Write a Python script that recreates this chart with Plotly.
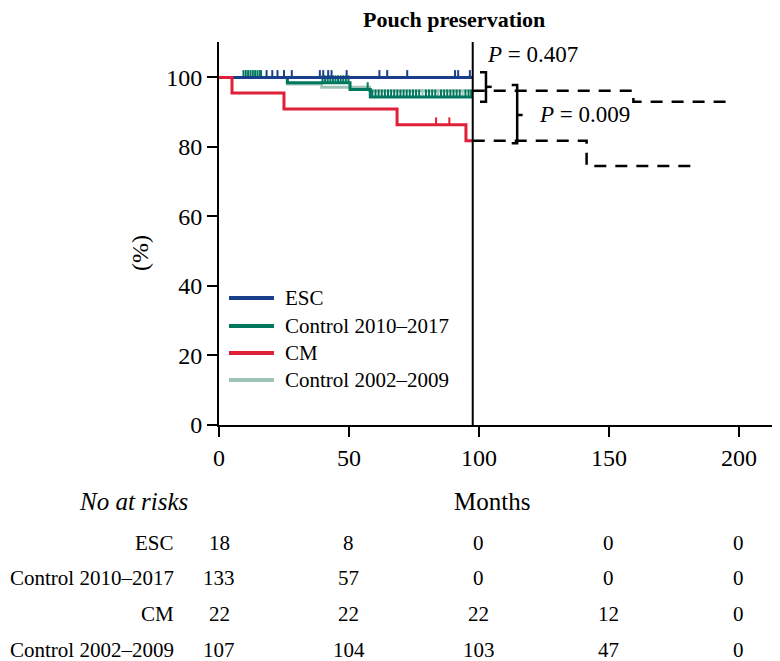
import numpy as np
import plotly.graph_objects as go

# ---------------- data ----------------
series_names = ["ESC", "Control 2010–2017", "CM", "Control 2002–2009"]

esc_t = [0, 97.6]
esc_s = [100, 100]
esc_cens = [18.3, 20.5, 22.5, 25, 28, 38.8, 40.1, 42, 43.3, 49.1, 61.7, 64.7, 72.4, 90.8, 92, 96.5]

c1017_t = [0, 26.3, 50.4, 58.2, 97.6]
c1017_s = [100, 98.5, 96.5, 94.4, 94.4]
c1017_cens = [9.4, 10.3, 11.2, 12.1, 13.0, 13.9, 14.8, 15.7, 16.2,
              39.8, 40.8, 41.8, 42.8, 43.8, 44.8, 45.8, 46.8, 47.8, 48.8, 49.8,
              57.2,
              59.0, 60.2, 61.4, 62.6, 63.8, 65.0, 66.2, 67.4, 68.6, 69.8, 71.0, 72.2,
              73.4, 74.6, 75.8, 77.0, 79.6, 80.8, 82.0, 83.2, 85.4, 86.6, 87.8, 89.0,
              90.2, 91.4, 92.6, 94.8, 96.0, 97.0]

cm_t = [0, 5, 25, 68.5, 95, 97.6]
cm_s = [100, 95.5, 90.9, 86.4, 81.8, 81.8]
cm_cens = [83.5, 88.6]

c0209_t = [0, 26.3, 39.5, 58.0, 97.6]
c0209_s = [100, 98.1, 97.2, 96.2, 96.2]
c0209_cens = [78.3, 84.3, 93.7]

# dashed long-term continuation (beyond the vertical reference line)
upper_t = [97.6, 159.4, 197.8]
upper_s = [96.2, 93.0, 93.0]
lower_t = [97.6, 141.4, 182.4]
lower_s = [81.8, 74.5, 74.5]

ref_month = 97.6

p_texts = ["0.407", "0.009"]

risk_cols = [0, 50, 100, 150, 200]
risk_esc = [18, 8, 0, 0, 0]
risk_c1017 = [133, 57, 0, 0, 0]
risk_cm = [22, 22, 22, 12, 0]
risk_c0209 = [107, 104, 103, 47, 0]

x_ticks = [0, 50, 100, 150, 200]
y_ticks = [0, 20, 40, 60, 80, 100]

# ---------------- style ----------------
FONT = "Liberation Serif"
colors = {"ESC": "#1a3f8a", "Control 2010–2017": "#00785e",
          "CM": "#e01f38", "Control 2002–2009": "#9fc3b6"}

# page body has an 8px default margin: shift figure so plot area lands at 219..780 / 42..425
PAGE_OFF = 8
W, H = 780 - PAGE_OFF, 661 - PAGE_OFF
ML, MT = 219 - PAGE_OFF, 42 - PAGE_OFF
PLOT_H = 425 - 42
MB = H - MT - PLOT_H


def surv_at(times, t_steps, s_steps):
    idx = np.searchsorted(np.array(t_steps), np.array(times), side="right") - 1
    return np.array(s_steps)[idx]


fig = go.Figure()

curves = [
    ("Control 2002–2009", c0209_t, c0209_s, c0209_cens, -0.9),
    ("Control 2010–2017", c1017_t, c1017_s, c1017_cens, 0.9),
    ("ESC", esc_t, esc_s, esc_cens, 0.9),
    ("CM", cm_t, cm_s, cm_cens, 0.9),
]

for name, t, s, cens, off in curves:
    fig.add_trace(go.Scatter(
        x=t, y=s, mode="lines", line=dict(color=colors[name], width=3, shape="hv"),
        name=name, showlegend=False, hoverinfo="skip"))
    cy = surv_at(cens, t, s) + off
    fig.add_trace(go.Scatter(
        x=cens, y=cy, mode="markers", showlegend=False, hoverinfo="skip",
        marker=dict(symbol="line-ns", size=6,
                    line=dict(color=colors[name], width=2))))

for t, s in [(upper_t, upper_s), (lower_t, lower_s)]:
    fig.add_trace(go.Scatter(
        x=t, y=s, mode="lines", showlegend=False, hoverinfo="skip",
        line=dict(color="black", width=2.5, shape="hv", dash="12px,9px")))

# vertical reference line
fig.add_shape(type="line", xref="x", yref="paper", x0=ref_month, x1=ref_month,
              y0=0, y1=1, line=dict(color="black", width=2))

# brackets
br = dict(color="black", width=2.5)
fig.add_shape(type="path", xref="x", yref="y",
              path="M100.4,101.5 L102.7,101.5 L102.7,93.0 L100.4,93.0", line=br)
fig.add_shape(type="line", xref="x", yref="y", x0=102.7, x1=104.9, y0=97.3, y1=97.3, line=br)
fig.add_shape(type="path", xref="x", yref="y",
              path="M112.6,97.8 L114.7,97.8 L114.7,81.1 L112.6,81.1", line=br)
fig.add_shape(type="line", xref="x", yref="y", x0=114.7, x1=116.8, y0=89.2, y1=89.2, line=br)

fig.add_annotation(x=102.3, y=106.6, xref="x", yref="y", xanchor="left", yanchor="middle",
                   text="<i>P</i> = " + p_texts[0], showarrow=False,
                   font=dict(family=FONT, size=23, color="black"))
fig.add_annotation(x=122.4, y=89.2, xref="x", yref="y", xanchor="left", yanchor="middle",
                   text="<i>P</i> = " + p_texts[1], showarrow=False,
                   font=dict(family=FONT, size=23, color="black"))

# manual legend (45px line samples)
leg_y = [0.3316, 0.2585, 0.1880, 0.1175]
for name, ly in zip(series_names, leg_y):
    fig.add_shape(type="line", xref="paper", yref="paper", x0=0.0178, x1=0.0980,
                  y0=ly, y1=ly, line=dict(color=colors[name], width=4))
    fig.add_annotation(x=0.1141, y=ly, xref="paper", yref="paper", text=name,
                       showarrow=False, xanchor="left", yanchor="middle",
                       font=dict(family=FONT, size=21, color="black"))

# axis titles
fig.add_annotation(x=-0.1408, y=0.449, xref="paper", yref="paper", text="(%)",
                   textangle=-90, showarrow=False, xanchor="center", yanchor="middle",
                   font=dict(family=FONT, size=24, color="black"))
fig.add_annotation(x=105, y=-0.201, xref="x", yref="paper", text="Months",
                   showarrow=False, xanchor="center", yanchor="middle",
                   font=dict(family=FONT, size=25, color="black"))
fig.add_annotation(x=-0.153, y=-0.201, xref="paper", yref="paper", text="<i>No at risks</i>",
                   showarrow=False, xanchor="center", yanchor="middle",
                   font=dict(family=FONT, size=25, color="black"))

# risk table
row_y = [-0.307, -0.399, -0.493, -0.587]
rows = [risk_esc, risk_c1017, risk_cm, risk_c0209]
for name, ry, vals in zip(series_names, row_y, rows):
    fig.add_annotation(x=-0.0766, y=ry, xref="paper", yref="paper", text=name,
                       showarrow=False, xanchor="right", yanchor="middle",
                       font=dict(family=FONT, size=21, color="black"))
    for xc, v in zip(risk_cols, vals):
        fig.add_annotation(x=xc, y=ry, xref="x", yref="paper", text=str(v),
                           showarrow=False, xanchor="center", yanchor="middle",
                           font=dict(family=FONT, size=21, color="black"))

# title as an annotation placed just above the plot area
fig.add_annotation(x=(454 - 219) / 561, y=1 + (42 - 20) / PLOT_H, xref="paper", yref="paper",
                   text="<b>Pouch preservation</b>", showarrow=False,
                   xanchor="center", yanchor="middle",
                   font=dict(family=FONT, size=22, color="black"))

fig.update_layout(
    width=W, height=H,
    margin=dict(l=ML, r=0, t=MT, b=MB),
    paper_bgcolor="white", plot_bgcolor="white",
    font=dict(family=FONT, size=20, color="black"),
    showlegend=False,
    xaxis=dict(range=[0, 215.8], tickvals=x_ticks, ticks="outside", ticklen=10,
               tickwidth=2, tickcolor="black", showline=True, linecolor="black",
               linewidth=2, showgrid=False, zeroline=False,
               tickfont=dict(family=FONT, size=24, color="black")),
    yaxis=dict(range=[0, 110.2], tickvals=y_ticks, ticks="outside", ticklen=10,
               tickwidth=2, tickcolor="black", showline=True, linecolor="black",
               linewidth=2, showgrid=False, zeroline=False,
               tickfont=dict(family=FONT, size=24, color="black")),
)

fig.write_html("out.html")
